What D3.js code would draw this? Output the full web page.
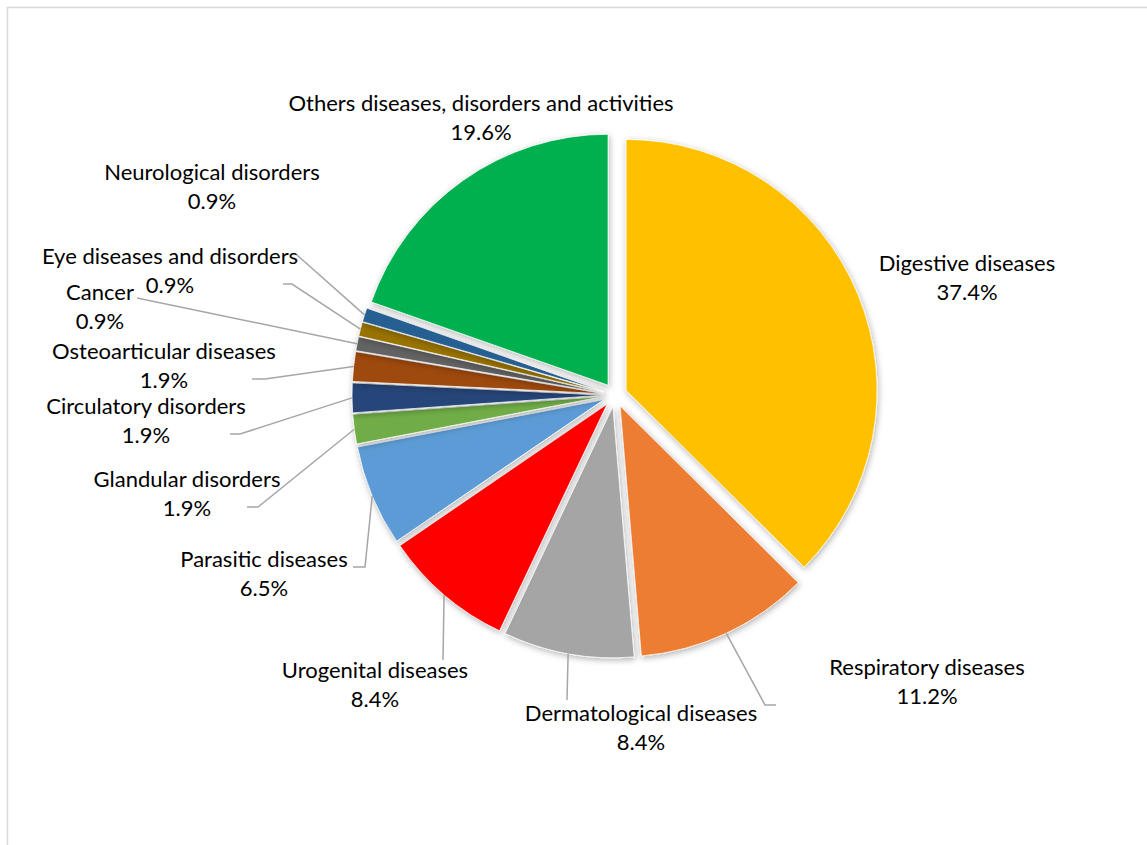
<!DOCTYPE html>
<html>
<head>
<meta charset="utf-8">
<script src="https://cdn.jsdelivr.net/npm/d3@7"></script>
<style>
  body { margin: 0; background: #fff; }
  svg { display: block; }
</style>
</head>
<body>
<div id="pieChart"></div>
<script>
// 1: DATA
const categories = [
    "Digestive diseases", "Respiratory diseases", "Dermatological diseases",
    "Urogenital diseases", "Parasitic diseases", "Glandular disorders",
    "Circulatory disorders", "Osteoarticular diseases", "Cancer",
    "Eye diseases and disorders", "Neurological disorders",
    "Others diseases, disorders and activities"
];
const shares = [37.4, 11.2, 8.4, 8.4, 6.5, 1.9, 1.9, 1.9, 0.9, 0.9, 0.9, 19.6];

// 2: STYLE / LAYOUT
const colors = ["#FFC000", "#ED7D31", "#A5A5A5", "#FF0000", "#5B9BD5", "#70AD47",
                "#264478", "#9E480E", "#636363", "#997300", "#255E91", "#00B050"];

const W = 1147, H = 845;
const center = { x: 615, y: 395 };
const radius = 251;
const explode = 12;

// label centre (between the two lines) and the label side of each leader line
const labelLayout = {
    "Digestive diseases":        { x: 967, y: 278 },
    "Respiratory diseases":      { x: 927, y: 682, leader: [[765, 705], [776, 705]] },
    "Dermatological diseases":   { x: 641, y: 728, leader: [[567, 700]] },
    "Urogenital diseases":       { x: 375, y: 685, leader: [[443, 660]] },
    "Parasitic diseases":        { x: 264, y: 574, leader: [[365, 567], [353, 567]] },
    "Glandular disorders":       { x: 187, y: 494, leader: [[258, 507], [247, 507]] },
    "Circulatory disorders":     { x: 146, y: 421, leader: [[240, 434], [230, 434]] },
    "Osteoarticular diseases":   { x: 164, y: 366, leader: [[265, 379], [252, 379]] },
    "Cancer":                    { x: 100, y: 307, leader: [[137, 298]] },
    "Eye diseases and disorders":{ x: 170, y: 271, leader: [[292, 284], [283, 284]] },
    "Neurological disorders":    { x: 212, y: 187, leader: [[297, 255]] },
    "Others diseases, disorders and activities": { x: 481, y: 118 }
};

const data = categories.map((c, i) => ({ name: c, value: shares[i], color: colors[i] }));

// 3: SVG
const svg = d3.select("#pieChart")
    .append("svg")
    .attr("width", W)
    .attr("height", H);

// chart frame (runs off the page on the right and bottom)
svg.append("rect")
    .attr("x", 7.5).attr("y", 7.5)
    .attr("width", W + 20).attr("height", H + 20)
    .attr("fill", "#fff")
    .attr("stroke", "#D9D9D9")
    .attr("stroke-width", 1.5);

const defs = svg.append("defs");
const shadow = defs.append("filter")
    .attr("id", "shadow")
    .attr("x", "-20%").attr("y", "-20%")
    .attr("width", "140%").attr("height", "140%");
shadow.append("feDropShadow")
    .attr("dx", 1).attr("dy", 2)
    .attr("stdDeviation", 3)
    .attr("flood-color", "#000")
    .attr("flood-opacity", 0.3);

// 4: PIE
const pie = d3.pie().sort(null).value(d => d.value);
const arcs = pie(data);
const arc = d3.arc().innerRadius(0).outerRadius(radius);

const mid = d => (d.startAngle + d.endAngle) / 2;
const offset = (d, r) => [Math.sin(mid(d)) * r, -Math.cos(mid(d)) * r];

const g = svg.append("g")
    .attr("transform", `translate(${center.x},${center.y})`);

g.selectAll(".slice")
    .data(arcs)
    .enter()
    .append("path")
    .attr("class", "slice")
    .attr("transform", d => `translate(${offset(d, explode)})`)
    .attr("d", arc)
    .attr("fill", d => d.data.color)
    .attr("stroke", "#fff")
    .attr("stroke-width", 0.75)
    .attr("filter", "url(#shadow)");

// 5: LEADER LINES
const line = d3.line();
arcs.forEach(d => {
    const lay = labelLayout[d.data.name];
    if (!lay.leader) return;
    const p = offset(d, explode + radius);
    const pts = [[center.x + p[0], center.y + p[1]], ...lay.leader];
    svg.append("path")
        .attr("d", line(pts))
        .attr("fill", "none")
        .attr("stroke", "#A6A6A6")
        .attr("stroke-width", 1.5);
});

// 6: LABELS
const labels = svg.selectAll(".label")
    .data(arcs)
    .enter()
    .append("text")
    .attr("class", "label")
    .attr("text-anchor", "middle")
    .style("font-family", "Lato, 'Open Sans', sans-serif")
    .style("font-size", "22px")
    .attr("fill", "#000");

labels.append("tspan")
    .attr("x", d => labelLayout[d.data.name].x)
    .attr("y", d => labelLayout[d.data.name].y - 14.5)
    .attr("dy", "0.35em")
    .text(d => d.data.name);

labels.append("tspan")
    .attr("x", d => labelLayout[d.data.name].x)
    .attr("y", d => labelLayout[d.data.name].y + 14.5)
    .attr("dy", "0.35em")
    .text(d => d3.format(".1f")(d.data.value) + "%");
</script>
</body>
</html>
